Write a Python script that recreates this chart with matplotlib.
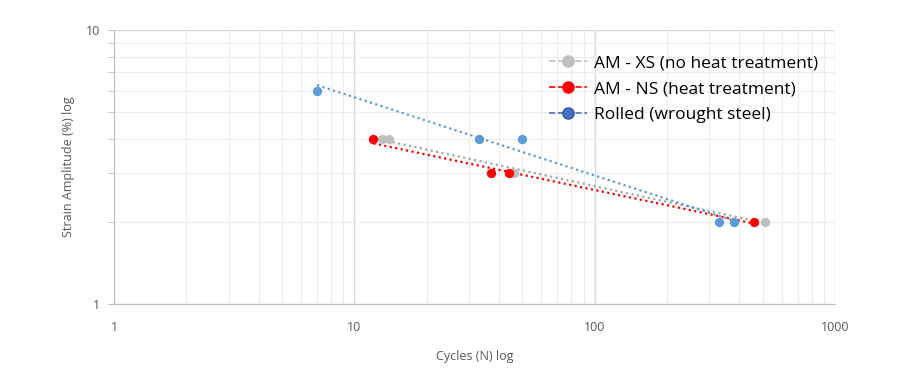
import numpy as np
import matplotlib.pyplot as plt
from matplotlib.lines import Line2D
from matplotlib.ticker import FixedLocator, NullFormatter

# data
xs_cycles = [13, 14, 46, 510]
xs_strain = [4, 4, 3, 2]
ns_cycles = [12, 37, 44, 460]
ns_strain = [4, 3, 3, 2]
rolled_cycles = [7, 33, 50, 330, 380]
rolled_strain = [6, 4, 4, 2, 2]

series = [
    ("AM - XS (no heat treatment)", xs_cycles, xs_strain, "#A5A5A5", "#BFBFBF"),
    ("AM - NS (heat treatment)", ns_cycles, ns_strain, "#FF0000", "#FF0000"),
    ("Rolled (wrought steel)", rolled_cycles, rolled_strain, "#5B9BD5", "#4472C4"),
]


def power_trend(x, y):
    # power law trendline fitted in log space
    k, c = np.polyfit(np.log10(x), np.log10(y), 1)
    xt = np.logspace(np.log10(min(x)), np.log10(max(x)), 50)
    return xt, 10 ** c * xt ** k


def main():
    plt.rcParams['font.family'] = ['Open Sans', 'DejaVu Sans']
    fig = plt.figure(figsize=(9.15, 3.87), dpi=100)
    ax = fig.add_axes([0.1246, 0.2145, 0.788, 0.708])

    handles = []
    for label, x, y, color, legend_color in series:
        xt, yt = power_trend(x, y)
        ax.plot(xt, yt, linestyle=(0, (1, 1.5)), color=color, linewidth=1.6,
                zorder=2)
        pt_color = "#BFBFBF" if color == "#A5A5A5" else color
        ax.scatter(x, y, s=45, color=pt_color, zorder=3, linewidths=0)
        edge = "#2F5597" if color == "#5B9BD5" else legend_color
        handles.append(Line2D([], [], color=legend_color, linestyle="--",
                              linewidth=1.2, marker="o", markersize=8,
                              markerfacecolor=legend_color,
                              markeredgecolor=edge, label=label))

    ax.set_xscale("log")
    ax.set_yscale("log")
    ax.set_xlim(1, 1000)
    ax.set_ylim(1, 10)
    ax.set_xticks([1, 10, 100, 1000])
    ax.set_xticklabels(["1", "10", "100", "1000"])
    ax.set_yticks([1, 10])
    ax.set_yticklabels(["1", "10"])
    ax.xaxis.set_minor_locator(FixedLocator(
        [m * 10 ** e for e in range(0, 3) for m in range(2, 10)]))
    ax.yaxis.set_minor_locator(FixedLocator(list(range(2, 10))))
    ax.xaxis.set_minor_formatter(NullFormatter())
    ax.yaxis.set_minor_formatter(NullFormatter())

    ax.grid(True, which="major", color="#D9D9D9", linewidth=1.0)
    ax.grid(True, which="minor", color="#EDEDED", linewidth=0.8)
    ax.set_axisbelow(True)

    for side in ["top", "right"]:
        ax.spines[side].set_visible(False)
    for side in ["left", "bottom"]:
        ax.spines[side].set_color("#BFBFBF")
    ax.tick_params(which="both", colors="#BFBFBF", labelcolor="#595959",
                   labelsize=9, length=4)
    ax.tick_params(axis="x", which="both", length=0, pad=12)
    ax.tick_params(axis="y", which="major", pad=6)

    ax.set_xlabel("Cycles (N) log", fontsize=9, color="#595959", labelpad=12)
    ax.set_ylabel("Strain Amplitude (%) log", fontsize=9, color="#595959",
                  labelpad=8)

    ax.legend(handles=handles, loc="upper right", bbox_to_anchor=(0.998, 0.965),
              frameon=False, fontsize=12.5, handlelength=2.2,
              handletextpad=0.4, labelspacing=0.55)

    fig.savefig("out.png", dpi=100)


if __name__ == "__main__":
    main()
